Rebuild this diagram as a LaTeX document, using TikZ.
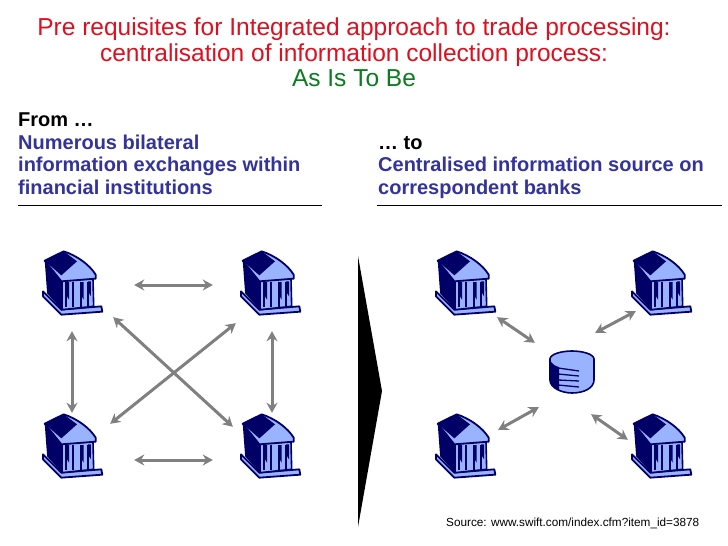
\documentclass[tikz,border=0pt]{standalone}
\usepackage{fontspec}
\setmainfont{Liberation Sans}
\definecolor{bankdark}{HTML}{000066}
\definecolor{banklight}{HTML}{99B3FF}
\definecolor{headblue}{HTML}{333399}
\definecolor{greenhead}{HTML}{0A7D1E}
\definecolor{titlered}{HTML}{DE0F1E}
\definecolor{arrowgray}{HTML}{808080}
\usetikzlibrary{arrows.meta}

\tikzset{
    bankbox/.style={minimum width=60pt, minimum height=64pt, inner sep=0pt},
    storebox/.style={minimum width=46pt, minimum height=42pt, inner sep=0pt},
    link/.style={draw=arrowgray, line width=3pt, {Stealth[length=10pt,width=11pt]}-{Stealth[length=10pt,width=11pt]}},
    headline/.style={anchor=base west, inner sep=0pt, font=\fontsize{20}{22.6}\selectfont\bfseries, align=left},
    bank/.pic={
        % coordinates read from a crop, one unit is a third of a pixel
        \begin{scope}[scale=0.3333, shift={(-160,-155)}, line join=round]
            % base
            \filldraw[fill=banklight, draw=bankdark, line width=1.8pt] (70,180) -- (70,195) -- (125,250) -- (248,241) -- (245,225) -- (125,235) -- cycle;
            % wall
            \filldraw[fill=bankdark, draw=bankdark, line width=1.8pt] (78,90) -- (85,185) -- (127,232) -- (127,135) -- cycle;
            % front
            \filldraw[fill=banklight, draw=bankdark, line width=1.6pt] (127,148) -- (220,142) -- (222,225) -- (127,235) -- cycle;
            \foreach \xc in {139,161,183,205} {
                \draw[bankdark, line width=2pt] (\xc,152) -- (\xc,226);
            }
            \fill[bankdark] (139,152) -- (148,152) -- (148,205) -- (139,190) -- cycle;
            \fill[bankdark] (183,152) -- (192,152) -- (192,205) -- (183,190) -- cycle;
            \fill[bankdark] (205,150) -- (214,150) -- (214,195) -- (205,180) -- cycle;
            % pediment
            \filldraw[fill=banklight, draw=bankdark, line width=1.8pt] (75,88) -- (132,60) .. controls (170,72) and (210,100) .. (228,130) -- (228,142) -- (125,150) -- cycle;
            \fill[bankdark] (75,88) -- (132,60) -- (172,90) -- (125,132) -- cycle;
        \end{scope}
    },
    store/.pic={
        \begin{scope}[line join=round]
            \filldraw[fill=banklight, draw=bankdark, line width=1.6pt] (-22,-13) -- (-22,8) .. controls (-22,16) and (-10,21) .. (0,21) .. controls (12,21) and (22,16) .. (22,8) -- (22,-13) .. controls (22,-18) and (10,-21) .. (0,-21) .. controls (-10,-21) and (-22,-18) .. (-22,-13) -- cycle;
            \fill[bankdark] (-22,-11) .. controls (-20,-8) and (-17,-6) .. (-13,-5) -- (-13,18) .. controls (-18,16) and (-22,13) .. (-22,8) -- cycle;
            \foreach \ya/\yb in {-4/-1,2/4,8/9,13/15} {
                \draw[bankdark, line width=1.3pt] (-14,\ya) -- (7,\yb);
            }
        \end{scope}
    }
}

\begin{document}
\begin{tikzpicture}[x=1pt, y=-1pt]
    \useasboundingbox[fill=white] (0,0) rectangle (728,546);

    % title
    \node[inner sep=0pt, align=center, text=titlered, font=\fontsize{24.5}{25.5}\selectfont, anchor=north] (title) at (354,18)
        {Pre requisites for Integrated approach to trade processing:\\
         centralisation of information collection process:\\
         \textcolor{greenhead}{As Is To Be}};

    % left heading
    \node[headline] (fromhead) at (18,194.5) {From …\\\textcolor{headblue}{Numerous bilateral}\\\textcolor{headblue}{information exchanges within}\\\textcolor{headblue}{financial institutions}};
    \draw[black, line width=0.6pt] (18,205) -- (322,205);

    % right heading
    \node[headline] (tohead) at (378,194.5) {… to\\\textcolor{headblue}{Centralised information source on}\\\textcolor{headblue}{correspondent banks}};
    \draw[black, line width=0.6pt] (377,205) -- (722,205);

    % from: every bank to every bank
    \node[bankbox] (bankA) at (73,283) {};
    \node[bankbox] (bankB) at (271,283) {};
    \node[bankbox] (bankC) at (73,446) {};
    \node[bankbox] (bankD) at (271,446) {};
    \foreach \bk in {bankA,bankB,bankC,bankD} {
        \pic at (\bk) {bank};
    }
    \draw[link] ([shift={(31,2)}]bankA.east) -- ([shift={(-28,2)}]bankB.west);
    \draw[link] ([shift={(31,14)}]bankC.east) -- ([shift={(-28,14)}]bankD.west);
    \draw[link] ([shift={(-1,16)}]bankA.south) -- ([shift={(-1,-1)}]bankC.north);
    \draw[link] ([shift={(1,16)}]bankB.south) -- ([shift={(1,-1)}]bankD.north);
    \draw[link] ([shift={(10,2)}]bankA.south east) -- ([shift={(-8,13)}]bankD.north west);
    \draw[link] ([shift={(-5,8)}]bankB.south west) -- ([shift={(7,10)}]bankC.north east);

    % the big arrow between the two halves
    \fill[black] (358,256) -- (382,391) -- (358,527) -- cycle;

    % to: every bank to the one store
    \node[bankbox] (bankE) at (466,283) {};
    \node[bankbox] (bankF) at (662,283) {};
    \node[bankbox] (bankG) at (466,446) {};
    \node[bankbox] (bankH) at (662,446) {};
    \foreach \bk in {bankE,bankF,bankG,bankH} {
        \pic at (\bk) {bank};
    }
    \node[storebox] (store) at (572,372) {};
    \pic at (store) {store};
    \draw[link] ([shift={(1,2)}]bankE.south east) -- ([shift={(-14,-8)}]store.north west);
    \draw[link] ([shift={(4,-4)}]bankF.south west) -- ([shift={(0,-18)}]store.north east);
    \draw[link] ([shift={(2,16)}]bankG.north east) -- ([shift={(-10,14)}]store.south west);
    \draw[link] ([shift={(-4,26)}]bankH.north west) -- ([shift={(-4,21)}]store.south east);

    \node[inner sep=0pt, anchor=base west, font=\fontsize{11.76}{13}\selectfont] (source) at (446,526) {Source: www.swift.com/index.cfm?item\_id=3878};
\end{tikzpicture}
\end{document}
